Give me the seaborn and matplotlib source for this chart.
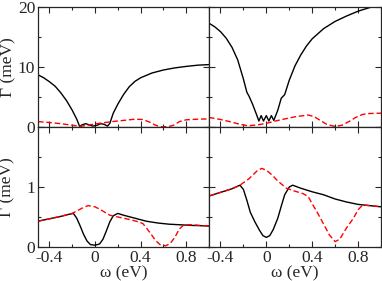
import matplotlib
matplotlib.use("Agg")
import matplotlib.pyplot as plt
import seaborn as sns
from matplotlib.ticker import MultipleLocator

# top-left panel
tl_black_w = [-0.5, -0.45, -0.4, -0.35, -0.3, -0.25, -0.2, -0.16, -0.135, -0.11, -0.08, -0.05,
              -0.02, 0.02, 0.05, 0.08, 0.11, 0.13, 0.16, 0.2, 0.25, 0.3, 0.35, 0.4, 0.5, 0.6,
              0.7, 0.8, 0.9, 1.0]
tl_black_g = [8.7, 8.2, 7.55, 6.8, 5.7, 4.4, 2.8, 1.3, 0.1, 0.4, 0.55, 0.35,
              0.15, 0.3, 0.55, 0.45, 0.15, 0.6, 2.3, 3.8, 5.4, 6.7, 7.6, 8.2, 9.0, 9.5,
              9.85, 10.1, 10.3, 10.4]
tl_red_w = [-0.5, -0.4, -0.3, -0.2, -0.13, -0.05, 0.05, 0.15, 0.25, 0.35, 0.42, 0.48, 0.53,
            0.58, 0.64, 0.69, 0.74, 0.8, 0.9, 1.0]
tl_red_g = [0.9, 0.75, 0.55, 0.3, 0.1, 0.35, 0.65, 0.9, 1.1, 1.3, 1.25, 0.8, 0.3,
            0.05, 0.05, 0.3, 0.9, 1.2, 1.3, 1.35]

# top-right panel
tr_black_w = [-0.5, -0.45, -0.4, -0.35, -0.3, -0.25, -0.2, -0.17, -0.15, -0.12, -0.09, -0.065,
              -0.045, -0.025, 0.0, 0.022, 0.044, 0.065, 0.1, 0.13, 0.16, 0.2, 0.25, 0.3, 0.35,
              0.4, 0.5, 0.6, 0.7, 0.8, 0.9, 1.0]
tr_black_g = [17.3, 16.7, 15.9, 14.8, 13.3, 11.2, 8.0, 5.8, 5.1, 3.8, 2.3, 1.0,
              1.9, 1.0, 1.9, 1.0, 1.9, 1.1, 2.8, 4.8, 5.4, 7.8, 10.2, 12.0, 13.5,
              14.7, 16.4, 17.6, 18.5, 19.3, 19.9, 20.3]
tr_red_w = [-0.5, -0.4, -0.32, -0.24, -0.16, -0.08, 0.0, 0.08, 0.15, 0.25, 0.365, 0.42, 0.47,
            0.53, 0.6, 0.66, 0.72, 0.78, 0.84, 0.9, 1.0]
tr_red_g = [1.6, 1.25, 0.9, 0.5, 0.2, 0.35, 0.6, 1.0, 1.3, 1.7, 2.0, 1.7, 1.1,
            0.4, 0.1, 0.3, 0.9, 1.6, 2.1, 2.25, 2.3]

# bottom-left panel
bl_black_w = [-0.5, -0.4, -0.3, -0.24, -0.19, -0.16, -0.13, -0.1, -0.07, -0.04, 0.0, 0.04,
              0.07, 0.1, 0.13, 0.16, 0.2, 0.25, 0.33, 0.45, 0.55, 0.65, 0.75, 0.85, 1.0]
bl_black_g = [0.43, 0.47, 0.51, 0.54, 0.56, 0.48, 0.35, 0.21, 0.1, 0.04, 0.03, 0.05,
              0.13, 0.27, 0.42, 0.52, 0.56, 0.53, 0.49, 0.43, 0.4, 0.38, 0.37, 0.36, 0.35]
bl_red_w = [-0.5, -0.4, -0.3, -0.2, -0.15, -0.1, -0.06, 0.0, 0.05, 0.13, 0.2, 0.3, 0.38,
            0.42, 0.45, 0.49, 0.53, 0.57, 0.62, 0.66, 0.7, 0.74, 0.78, 0.85, 1.0]
bl_red_g = [0.43, 0.47, 0.51, 0.56, 0.61, 0.66, 0.69, 0.67, 0.62, 0.53, 0.5, 0.46, 0.42,
            0.39, 0.32, 0.22, 0.11, 0.04, 0.02, 0.06, 0.16, 0.3, 0.37, 0.37, 0.35]

# bottom-right panel
br_black_w = [-0.5, -0.4, -0.3, -0.23, -0.2, -0.17, -0.14, -0.1, -0.06, -0.03, 0.0, 0.03,
              0.06, 0.1, 0.13, 0.16, 0.2, 0.23, 0.3, 0.4, 0.5, 0.6, 0.7, 0.8, 0.9, 1.0]
br_black_g = [0.85, 0.91, 0.97, 1.03, 0.96, 0.78, 0.58, 0.42, 0.28, 0.19, 0.16, 0.19,
              0.29, 0.48, 0.68, 0.87, 1.0, 1.03, 0.98, 0.92, 0.87, 0.8, 0.75, 0.71, 0.69, 0.67]
br_red_w = [-0.5, -0.4, -0.3, -0.23, -0.15, -0.08, -0.04, 0.0, 0.05, 0.1, 0.175, 0.25, 0.32,
            0.365, 0.4, 0.44, 0.5, 0.55, 0.6, 0.64, 0.7, 0.76, 0.8, 0.84, 0.9, 1.0]
br_red_g = [0.85, 0.91, 0.97, 1.03, 1.14, 1.27, 1.31, 1.28, 1.2, 1.1, 0.98, 0.93, 0.89,
            0.84, 0.72, 0.59, 0.38, 0.2, 0.09, 0.13, 0.32, 0.48, 0.62, 0.7, 0.69, 0.67]

x_ticks = [-0.4, 0, 0.4, 0.8]
x_labels = ['-0.4', '0', '0.4', '0.8']
top_yticks = [0, 10, 20]
top_ylabels = ['0', '10', '20']
bot_yticks = [0, 1, 2]
bot_ylabels = ['0', '1', '']

sns.set_style("ticks")
plt.rcParams['font.family'] = ['Liberation Serif', 'DejaVu Serif']
plt.rcParams['axes.unicode_minus'] = False
fs = 12.5

fig = plt.figure(figsize=(3.82, 2.81), dpi=100)
W, H = 382, 281
lx, rx, rend = 38, 209, 381
ytop, ymid, ybot = 7, 127, 247
ax_tl = fig.add_axes([lx / W, 1 - ymid / H, (rx - lx) / W, (ymid - ytop) / H])
ax_tr = fig.add_axes([rx / W, 1 - ymid / H, (rend - rx) / W, (ymid - ytop) / H])
ax_bl = fig.add_axes([lx / W, 1 - ybot / H, (rx - lx) / W, (ybot - ymid) / H])
ax_br = fig.add_axes([rx / W, 1 - ybot / H, (rend - rx) / W, (ybot - ymid) / H])

panels = [
    (ax_tl, tl_black_w, tl_black_g, tl_red_w, tl_red_g),
    (ax_tr, tr_black_w, tr_black_g, tr_red_w, tr_red_g),
    (ax_bl, bl_black_w, bl_black_g, bl_red_w, bl_red_g),
    (ax_br, br_black_w, br_black_g, br_red_w, br_red_g),
]

for ax, kw, kg, rw, rg in panels:
    sns.lineplot(x=kw, y=kg, ax=ax, color='black', lw=1.0, estimator=None, sort=False)
    sns.lineplot(x=rw, y=rg, ax=ax, color='red', lw=1.0, estimator=None, sort=False,
                 linestyle=(0, (4, 2)))
    ax.set_xlim(-0.5, 1.0)
    ax.set_xticks(x_ticks)
    ax.xaxis.set_minor_locator(MultipleLocator(0.2))
    ax.tick_params(which='both', direction='in', top=True, right=True, labelsize=fs,
                   width=0.8, pad=2)
    ax.tick_params(which='major', length=4)
    ax.tick_params(which='minor', length=2.5)
    for s in ax.spines.values():
        s.set_linewidth(0.9)
    ax.set_xlabel('')
    ax.set_ylabel('')

for ax in (ax_tl, ax_tr):
    ax.set_ylim(0, 20)
    ax.set_yticks(top_yticks)
    ax.yaxis.set_minor_locator(MultipleLocator(5))
    ax.set_xticklabels([])
for ax in (ax_bl, ax_br):
    ax.set_ylim(0, 2)
    ax.set_yticks(bot_yticks)
    ax.yaxis.set_minor_locator(MultipleLocator(0.5))
    ax.set_xticklabels(x_labels)
    ax.set_xlabel('ω (eV)', fontsize=fs, labelpad=0)

ax_tl.set_yticklabels(top_ylabels)
ax_bl.set_yticklabels(bot_ylabels)
ax_tr.set_yticklabels([])
ax_br.set_yticklabels([])
ax_tl.set_ylabel('Γ (meV)', fontsize=fs, labelpad=1)
ax_bl.set_ylabel('Γ (meV)', fontsize=fs, labelpad=8)

fig.savefig('out.png', dpi=100)
